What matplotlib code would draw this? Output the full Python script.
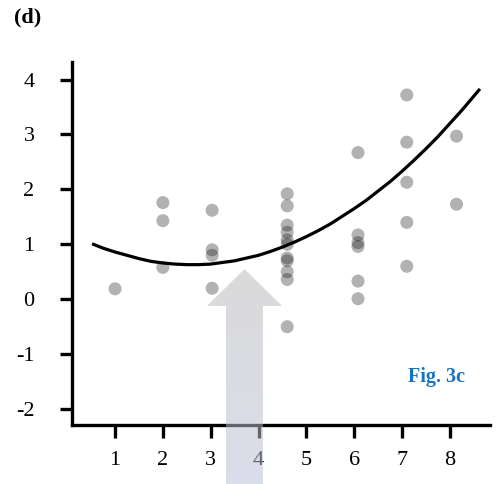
import numpy as np
import matplotlib
matplotlib.use("Agg")
import matplotlib.pyplot as plt
from matplotlib.patches import Polygon

plt.rcParams['font.family'] = ['Liberation Serif', 'DejaVu Serif']

# ---- data ----
group_x = [1.0, 2.0, 3.03, 4.6, 6.08, 7.1, 8.14]
group_y = [
    [0.19],
    [1.76, 1.43, 0.58],
    [1.62, 0.90, 0.80, 0.20],
    [1.92, 1.70, 1.35, 1.22, 1.08, 1.00, 0.75, 0.70, 0.50, 0.36, -0.50],
    [2.67, 1.17, 1.03, 0.96, 0.33, 0.01],
    [3.72, 2.86, 2.13, 1.40, 0.60],
    [2.97, 1.73],
]
curve_x = [0.52, 0.75, 1.0, 1.25, 1.5, 1.75, 2.0, 2.25, 2.5, 2.75, 3.0, 3.25, 3.5, 3.75,
           4.0, 4.25, 4.5, 4.75, 5.0, 5.25, 5.5, 5.75, 6.0, 6.25, 6.5, 6.75, 7.0, 7.25,
           7.5, 7.75, 8.0, 8.25, 8.63]
curve_y = [1.01, 0.93, 0.86, 0.80, 0.74, 0.69, 0.66, 0.64, 0.63, 0.63, 0.64, 0.67, 0.70, 0.75,
           0.80, 0.87, 0.95, 1.04, 1.14, 1.25, 1.37, 1.51, 1.65, 1.80, 1.97, 2.14, 2.33, 2.53,
           2.74, 2.96, 3.20, 3.44, 3.83]
x_ticks = [1, 2, 3, 4, 5, 6, 7, 8]
y_ticks = [-2, -1, 0, 1, 2, 3, 4]
y_tick_labels = ['-2', '-1', '0', '1', '2', '3', '4']

W, H = 497, 484
fig = plt.figure(figsize=(W / 100, H / 100), dpi=100)
ax = fig.add_axes([72 / W, 1 - 425 / H, (490 - 72) / W, (425 - 62) / H])

ax.plot(curve_x, curve_y, color='black', lw=2.3, zorder=2, solid_capstyle='butt')
for gx, ys in zip(group_x, group_y):
    ax.scatter([gx] * len(ys), ys, s=88, color='black', alpha=0.3,
               edgecolors='none', zorder=3)

ax.set_xlim(0.10, 8.84)
ax.set_ylim(-2.29, 4.32)
ax.set_xticks(x_ticks)
ax.set_xticklabels([str(t) for t in x_ticks])
ax.set_yticks(y_ticks)
ax.set_yticklabels(y_tick_labels)
for s in ['top', 'right']:
    ax.spines[s].set_visible(False)
for s in ['left', 'bottom']:
    ax.spines[s].set_linewidth(2.4)
ax.tick_params(axis='both', width=2.4, length=9, labelsize=16, colors='black')
ax.tick_params(axis='y', pad=18)
ax.tick_params(axis='x', pad=10)
ax.set_facecolor('none')

# labels
fig.text(14 / W, 1 - 17 / H, '(d)', fontsize=16, fontweight='bold', va='center', ha='left')
fig.text(437 / W, 1 - 377 / H, 'Fig. 3c', fontsize=14.5, fontweight='bold',
         color='#1473c4', va='center', ha='center')

# gradient arrow overlay (pixel coordinates)
ov = fig.add_axes([0, 0, 1, 1])
ov.set_xlim(0, W)
ov.set_ylim(H, 0)
ov.axis('off')
ov.patch.set_alpha(0)
cx = 244.5
tip_y, base_y = 269, 306
hw, sw = 37.5, 18.5
pts = [(cx, tip_y), (cx + hw, base_y), (cx + sw, base_y), (cx + sw, H + 2),
       (cx - sw, H + 2), (cx - sw, base_y), (cx - hw, base_y)]
poly = Polygon(pts, closed=True, facecolor='none', edgecolor='none')
ov.add_patch(poly)
top_c = np.array([185, 185, 185]) / 255.0
bot_c = np.array([187, 192, 217]) / 255.0
t = np.linspace(0, 1, 256)[:, None]
grad = (top_c[None, :] * (1 - t) + bot_c[None, :] * t)[:, None, :]
grad = np.repeat(grad, 2, axis=1)
im = ov.imshow(grad, extent=(cx - hw, cx + hw, H + 2, tip_y), aspect='auto',
               alpha=0.53, interpolation='bilinear', zorder=5)
im.set_clip_path(poly)

fig.savefig('out.png', dpi=100)
